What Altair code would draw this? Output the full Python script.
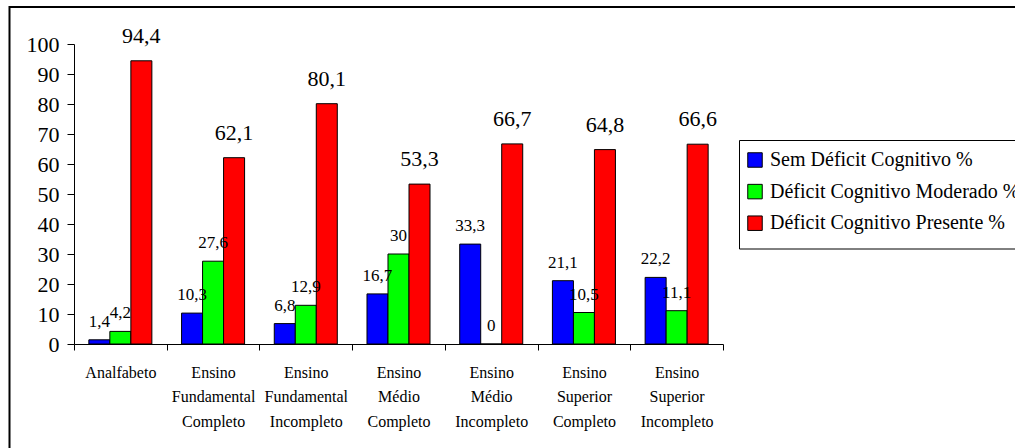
import altair as alt
import pandas as pd

# Escolaridade (rótulos em várias linhas) e percentuais por grupo
categorias = [
    "Analfabeto",
    "Ensino\nFundamental\nCompleto",
    "Ensino\nFundamental\nIncompleto",
    "Ensino\nMédio\nCompleto",
    "Ensino\nMédio\nIncompleto",
    "Ensino\nSuperior\nCompleto",
    "Ensino\nSuperior\nIncompleto",
]
series = [
    "Sem Déficit Cognitivo %",
    "Déficit Cognitivo Moderado %",
    "Déficit Cognitivo Presente %",
]
sem_deficit = [1.4, 10.3, 6.8, 16.7, 33.3, 21.1, 22.2]
moderado = [4.2, 27.6, 12.9, 30, 0, 10.5, 11.1]
presente = [94.4, 62.1, 80.1, 53.3, 66.7, 64.8, 66.6]
cores = ["#0000FF", "#00FF00", "#FF0000"]
y_ticks = list(range(0, 101, 10))

FONT = "'Liberation Serif', 'Times New Roman', Times, serif"


def rotulo(v):
    return f"{v:g}".replace(".", ",")


linhas = []
for serie, valores in zip(series, [sem_deficit, moderado, presente]):
    for cat, v in zip(categorias, valores):
        linhas.append({"categoria": cat, "serie": serie, "valor": v, "rotulo": rotulo(v)})
df = pd.DataFrame(linhas)

W, H = 649, 300
PAD = {"left": 74, "top": 44, "right": 1015 - 74 - W, "bottom": 448 - 44 - H}

x_enc = alt.X(
    "categoria:N",
    sort=categorias,
    scale=alt.Scale(paddingInner=0, paddingOuter=0),
    axis=alt.Axis(
        title=None,
        labelAngle=0,
        tickBand="extent",
        labelExpr="split(datum.label, '\\n')",
        labelFont=FONT,
        labelFontSize=16,
        labelLineHeight=24.5,
        labelColor="black",
        labelPadding=14,
        labelLimit=200,
        tickSize=6,
        tickColor="black",
        domainColor="black",
    ),
)
xoff_enc = alt.XOffset(
    "serie:N", sort=series, scale=alt.Scale(paddingInner=0, paddingOuter=0.707)
)
y_enc = alt.Y(
    "valor:Q",
    scale=alt.Scale(domain=[0, 100], nice=False),
    axis=alt.Axis(
        title=None,
        values=y_ticks,
        grid=False,
        labelFont=FONT,
        labelFontSize=22,
        labelColor="black",
        labelPadding=8,
        tickSize=7,
        tickColor="black",
        domainColor="black",
    ),
)

base = alt.Chart(df)

barras = base.mark_bar(stroke="black", strokeWidth=1).encode(
    x=x_enc,
    xOffset=xoff_enc,
    y=y_enc,
    color=alt.Color(
        "serie:N",
        sort=series,
        scale=alt.Scale(domain=series, range=cores),
        legend=alt.Legend(
            title=None,
            orient="none",
            legendX=671,
            legendY=106,
            symbolType="square",
            symbolSize=210,
            symbolStrokeColor="black",
            symbolStrokeWidth=1,
            labelFont=FONT,
            labelFontSize=20,
            labelColor="black",
            labelLimit=500,
            labelOffset=5,
            rowPadding=11.6,
            padding=0,
        ),
    ),
)

texto_pequeno = (
    base.transform_filter(alt.datum.serie != series[2])
    .mark_text(font=FONT, fontSize=17, baseline="alphabetic", dy=-13, color="black")
    .encode(x=x_enc, xOffset=xoff_enc, y=y_enc, text="rotulo:N")
)
texto_grande = (
    base.transform_filter(alt.datum.serie == series[2])
    .mark_text(font=FONT, fontSize=22, baseline="alphabetic", dy=-18, color="black")
    .encode(x=x_enc, xOffset=xoff_enc, y=y_enc, text="rotulo:N")
)

# moldura externa do gráfico
moldura = alt.Chart(pd.DataFrame({"m": [0]})).mark_rect(
    fill="transparent", stroke="black", strokeWidth=2
).encode(
    x=alt.value(-64.5),
    x2=alt.value(1100),
    y=alt.value(-37),
    y2=alt.value(500),
)

# caixa da legenda
caixa_legenda = alt.Chart(pd.DataFrame({"m": [0]})).mark_rect(
    fill="white", stroke="black", strokeWidth=1
).encode(
    x=alt.value(665.5),
    x2=alt.value(1100),
    y=alt.value(96.5),
    y2=alt.value(205),
)

chart = (
    alt.layer(moldura, caixa_legenda, barras, texto_pequeno, texto_grande)
    .properties(
        width=W,
        height=H,
        padding=PAD,
        autosize=alt.AutoSizeParams(type="none"),
        background="white",
    )
    .configure_view(strokeWidth=0)
)

chart.save("out.html", embed_options={"renderer": "svg", "actions": False})
